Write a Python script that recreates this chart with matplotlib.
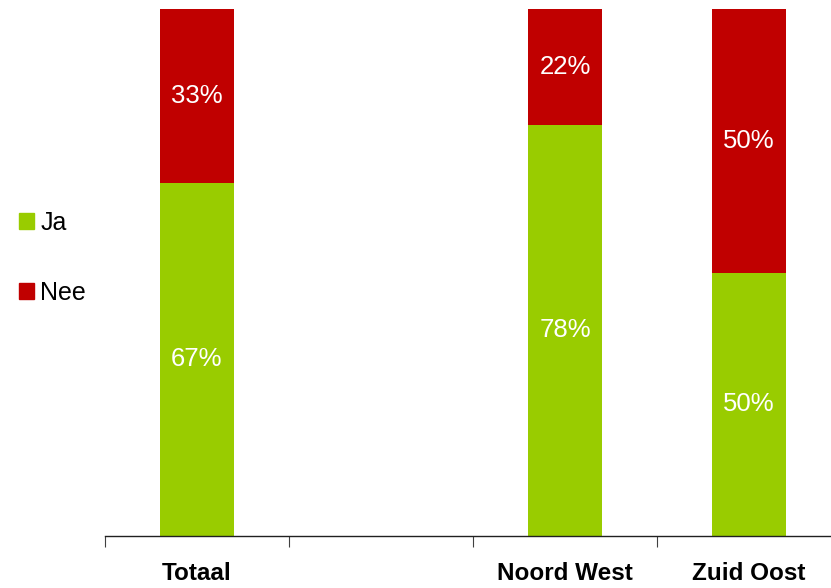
import matplotlib.pyplot as plt
from matplotlib.patches import Patch

# data
categories = ["Totaal", "", "Noord West", "Zuid Oost"]
ja = [67, None, 78, 50]
nee = [33, None, 22, 50]

GREEN = "#99CC00"
RED = "#C00000"

plt.rcParams["font.family"] = ["Liberation Sans Narrow", "Liberation Sans", "DejaVu Sans"]

fig = plt.figure(figsize=(8.31, 5.88), dpi=100)
# axes runs a bit past the right edge like the original crop
ax = fig.add_axes([105 / 831, 1 - 536 / 588, 736 / 831, 527 / 588])

for i, (j, n) in enumerate(zip(ja, nee)):
    if j is None:
        continue
    ax.bar(i, j, width=0.4, color=GREEN)
    ax.bar(i, n, bottom=j, width=0.4, color=RED)
    ax.text(i, j / 2, f"{j}%", ha="center", va="center", color="white", fontsize=18.5)
    ax.text(i, j + n / 2, f"{n}%", ha="center", va="center", color="white", fontsize=18.5)

ax.set_xlim(-0.5, len(categories) - 0.5)
ax.set_ylim(0, 100)
ax.set_yticks([])
ax.set_xticks([i + 0.5 for i in range(-1, len(categories))])
ax.set_xticklabels([])
ax.tick_params(axis="x", length=8, width=0.8, color="#404040")
ax.set_xticks(range(len(categories)), minor=True)
ax.set_xticklabels(categories, minor=True, fontsize=17.5, fontweight="bold")
ax.tick_params(axis="x", which="minor", length=0, pad=19)

for side in ["top", "right", "left"]:
    ax.spines[side].set_visible(False)
ax.spines["bottom"].set_color("#202020")
ax.spines["bottom"].set_linewidth(1.0)

handles = [Patch(color=GREEN, label="Ja"), Patch(color=RED, label="Nee")]
fig.legend(handles=handles, loc="center left", bbox_to_anchor=(19 / 831, 1 - 258 / 588),
           frameon=False, fontsize=18, handlelength=0.6, handleheight=0.6,
           handletextpad=0.25, labelspacing=1.85, borderpad=0, borderaxespad=0)

fig.savefig("out.png", dpi=100)
